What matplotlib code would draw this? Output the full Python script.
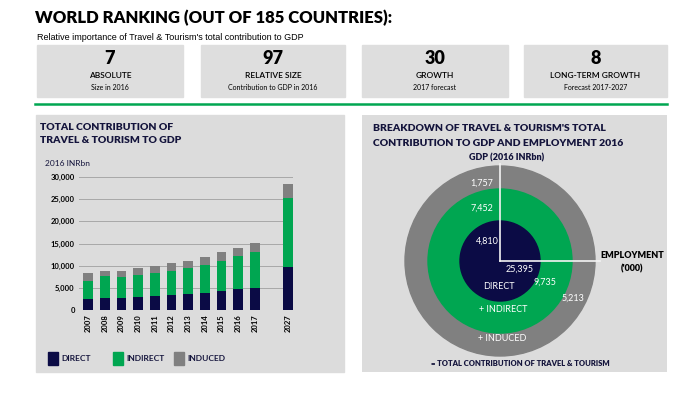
import matplotlib.pyplot as plt
from matplotlib.patches import Rectangle, Circle

# data
years = ['2007', '2008', '2009', '2010', '2011', '2012', '2013', '2014',
         '2015', '2016', '2017', '2027']
direct = [2500, 2600, 2800, 2900, 3200, 3450, 3700, 3900, 4300, 4810, 4950, 9750]
indirect = [4100, 5050, 4550, 5100, 5200, 5400, 5750, 6150, 6800, 7452, 8050, 15450]
induced = [1800, 1150, 1500, 1400, 1600, 1650, 1550, 1850, 1950, 1757, 2100, 3300]

rank_values = ['7', '97', '30', '8']
rank_titles = ['ABSOLUTE', 'RELATIVE SIZE', 'GROWTH', 'LONG-TERM GROWTH']
rank_notes = ['Size in 2016', 'Contribution to GDP in 2016', '2017 forecast',
              'Forecast 2017-2027']

gdp_2016 = [4810, 7452, 1757]       # direct, indirect, induced
emp_2016 = [25395, 9735, 5213]      # direct, indirect, induced ('000)
ring_labels = ['DIRECT', '+ INDIRECT', '+ INDUCED']

NAVY = '#0b0b45'
GREEN = '#00a651'
GREY = '#808080'
PANEL = '#dcdcdc'
DARK = '#14143c'

W, H = 690, 399
fig = plt.figure(figsize=(6.9, 3.99), dpi=100)
plt.rcParams['font.family'] = ['Lato', 'DejaVu Sans']


def box(x0, y0, x1, y1):
    # pixel box (top-left origin) -> figure fraction rect
    return [x0 / W, 1 - y1 / H, (x1 - x0) / W, (y1 - y0) / H]


def ftext(x, y, s, **kw):
    fig.text(x / W, 1 - y / H, s, **kw)


def frect(x0, y0, x1, y1, color, z=-1):
    fig.patches.append(Rectangle((x0 / W, 1 - y1 / H), (x1 - x0) / W, (y1 - y0) / H,
                                 transform=fig.transFigure, color=color, zorder=z))


# header
ftext(35, 18, 'WORLD RANKING (OUT OF 185 COUNTRIES):', fontsize=12, fontweight='heavy',
      va='center', color='black')
ftext(37, 37, "Relative importance of Travel & Tourism's total contribution to GDP",
      fontsize=6.5, va='center', family='Liberation Sans')

box_x = [(37, 183), (201, 345), (362, 508), (524, 667)]
for (x0, x1), v, t, n in zip(box_x, rank_values, rank_titles, rank_notes):
    frect(x0, 45, x1, 97, '#dedede')
    cx = (x0 + x1) / 2
    ftext(cx, 58, v, fontsize=13, fontweight='heavy', ha='center', va='center')
    ftext(cx, 75, t, fontsize=6, ha='center', va='center', fontweight='semibold')
    ftext(cx, 88, n, fontsize=5, ha='center', va='center')

fig.lines.append(plt.Line2D([35 / W, 667 / W], [1 - 104 / H, 1 - 104 / H],
                            transform=fig.transFigure, color=GREEN, lw=1.8))

# left panel
frect(36, 115, 344, 372, PANEL)
ftext(40, 127, 'TOTAL CONTRIBUTION OF', fontsize=7.5, fontweight='heavy', va='center', color=DARK)
ftext(40, 141, 'TRAVEL & TOURISM TO GDP', fontsize=7.5, fontweight='heavy', va='center', color=DARK)
ftext(45, 163, '2016 INRbn', fontsize=6, va='center', color=DARK)

ax = fig.add_axes(box(79, 177, 293, 310))
ax.set_facecolor('none')
pos = list(range(len(years) - 1)) + [len(years)]
bottom2 = [d + i for d, i in zip(direct, indirect)]
ax.bar(pos, direct, width=0.58, color=NAVY, zorder=3)
ax.bar(pos, indirect, width=0.58, bottom=direct, color=GREEN, zorder=3)
ax.bar(pos, induced, width=0.58, bottom=bottom2, color=GREY, zorder=3)
ax.set_xlim(-0.55, 12.3)
ax.set_ylim(0, 30000)
ax.set_yticks(range(0, 30001, 5000))
ax.set_yticklabels([f'{v:,}' for v in range(0, 30001, 5000)], fontsize=5.5, fontweight='bold')
ax.set_xticks(pos)
ax.set_xticklabels(years, rotation=90, fontsize=5.5, fontweight='bold')
ax.grid(axis='y', color='#a8a8a8', lw=0.7, zorder=0)
for s in ax.spines.values():
    s.set_visible(False)
ax.tick_params(length=0, pad=3)

# legend
leg_x = [48, 113, 174]
for lx, c, lab in zip(leg_x, [NAVY, GREEN, GREY], ['DIRECT', 'INDIRECT', 'INDUCED']):
    frect(lx, 352, lx + 10, 365, c, z=1)
    ftext(lx + 13, 358.5, lab, fontsize=6, fontweight='bold', va='center', color=DARK)

# right panel
cx, cy = 500, 261
ax2 = fig.add_axes(box(362, 115, 667, 372))
ax2.set_facecolor(PANEL)
ax2.set_xlim(362 - cx, 667 - cx)
ax2.set_ylim(-(372 - cy), cy - 115)
ax2.set_xticks([])
ax2.set_yticks([])
for s in ax2.spines.values():
    s.set_visible(False)

radii = [95, 72, 40]
for r, c in zip(radii, [GREY, GREEN, NAVY]):
    ax2.add_patch(Circle((0, 0), r, color=c, zorder=2))
ax2.plot([0, 0], [0, 97], color='#f4f4f4', lw=1.2, zorder=3)
ax2.plot([0, 100], [0, 0], color='#f4f4f4', lw=1.2, zorder=3)

gdp_pos = [(-13, 20), (-18, 53), (-18, 78)]
emp_pos = [(20, -8), (45, -21), (73, -37)]
lab_pos = [(-1, -26), (3, -49), (2, -78)]
for v, (x, y) in zip(gdp_2016, gdp_pos):
    ax2.text(x, y, f'{v:,}', color='white', fontsize=6.5, ha='center', va='center', zorder=4)
for v, (x, y) in zip(emp_2016, emp_pos):
    ax2.text(x, y, f'{v:,}', color='white', fontsize=6.5, ha='center', va='center', zorder=4)
for s, (x, y) in zip(ring_labels, lab_pos):
    ax2.text(x, y, s, color='white', fontsize=6.5, ha='center', va='center', zorder=4)

ax2.text(7, 103, 'GDP (2016 INRbn)', fontsize=6.5, fontweight='heavy', color=DARK,
         ha='center', va='center')
ax2.text(132, 5, 'EMPLOYMENT', fontsize=6.5, fontweight='heavy', color='black',
         ha='center', va='center')
ax2.text(132, -8, "('000)", fontsize=6.5, fontweight='heavy', color='black',
         ha='center', va='center')
ax2.text(20, -103, '= TOTAL CONTRIBUTION OF TRAVEL & TOURISM', fontsize=5.5,
         fontweight='heavy', color=DARK, ha='center', va='center')

ftext(373, 129, "BREAKDOWN OF TRAVEL & TOURISM'S TOTAL", fontsize=7.5, fontweight='heavy',
      va='center', color=DARK)
ftext(373, 143, 'CONTRIBUTION TO GDP AND EMPLOYMENT 2016', fontsize=7.5, fontweight='heavy',
      va='center', color=DARK)

fig.savefig('out.png', dpi=100, facecolor='white')
